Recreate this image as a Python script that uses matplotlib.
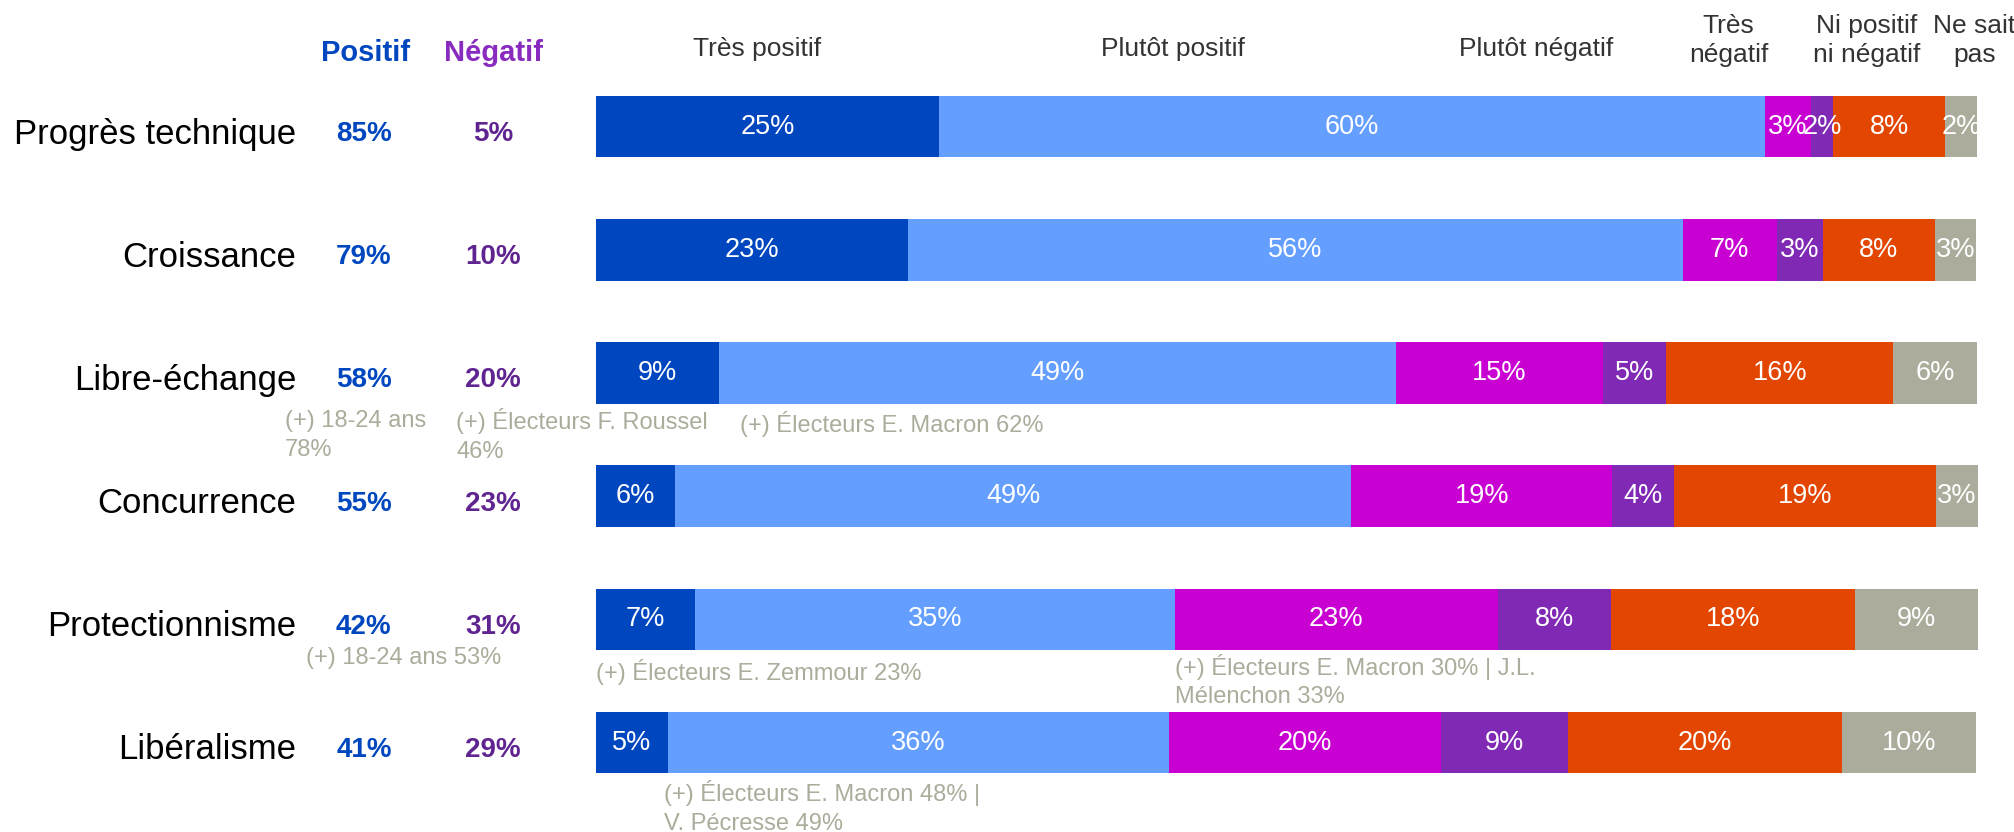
import matplotlib.pyplot as plt

plt.rcParams['font.family'] = ['Liberation Sans', 'DejaVu Sans']

categories = ['Progrès technique', 'Croissance', 'Libre-échange',
              'Concurrence', 'Protectionnisme', 'Libéralisme']
series = ['Très positif', 'Plutôt positif', 'Plutôt négatif',
          'Très\nnégatif', 'Ni positif\nni négatif', 'Ne sait\npas']
# shares (labels show them rounded)
tres_positif = [24.85, 22.6, 8.9, 5.7, 7.2, 5.2]
plutot_positif = [59.8, 56.1, 49.0, 49.0, 34.7, 36.3]
plutot_negatif = [3.3, 6.8, 15.0, 18.9, 23.4, 19.7]
tres_negatif = [1.65, 3.35, 4.6, 4.45, 8.2, 9.2]
ni_ni = [8.07, 8.1, 16.45, 19.0, 17.7, 19.8]
nsp = [2.33, 2.98, 6.05, 3.0, 8.85, 9.7]
positif = [85, 79, 58, 55, 42, 41]
negatif = [5, 10, 20, 23, 31, 29]

# sub-group notes: (row, x, y offset, text)
notes = [
    (2, -22.5, 0.51, '(+) 18-24 ans\n78%'),
    (2, -10.1, 0.51, '(+) Électeurs F. Roussel\n46%'),
    (2, 10.4, 0.41, '(+) Électeurs E. Macron 62%'),
    (4, -21.0, 0.31, '(+) 18-24 ans 53%'),
    (4, 0.0, 0.43, '(+) Électeurs E. Zemmour 23%'),
    (4, 41.9, 0.50, '(+) Électeurs E. Macron 30% | J.L.\nMélenchon 33%'),
    (5, 4.9, 0.53, '(+) Électeurs E. Macron 48% |\nV. Pécresse 49%'),
]

colors = ['#0047BF', '#649FFF', '#C800D2', '#8029B5', '#E24600', '#ABAC9B']
header_x = [11.7, 41.8, 68.1, 82.0, 92.0, 99.8]
gray = '#ABAC9B'

fig = plt.figure(figsize=(20.15, 8.32), dpi=100)
ax = fig.add_axes([0, 0, 1, 1])
ax.set_xlim(-43.15, 102.75)
ax.set_ylim(5.726, -1.028)
ax.axis('off')

rows = list(range(len(categories)))
left = [0] * len(categories)
for vals, col in zip([tres_positif, plutot_positif, plutot_negatif,
                      tres_negatif, ni_ni, nsp], colors):
    ax.barh(rows, vals, left=left, height=0.5, color=col, linewidth=0)
    for r, v, l in zip(rows, vals, left):
        ax.text(l + v / 2, r, f'{round(v)}%', ha='center', va='center',
                color='white', fontsize=19.5)
    left = [l + v for l, v in zip(left, vals)]

for name, x in zip(series, header_x):
    y = -0.70 if '\n' in name else -0.63
    ax.text(x, y, name, ha='center', va='center', color='#333333',
            fontsize=19, linespacing=1.25)

ax.text(-16.7, -0.60, 'Positif', ha='center', va='center', color='#0047BF',
        fontsize=21, fontweight='bold')
ax.text(-7.45, -0.60, 'Négatif', ha='center', va='center', color='#8A2BC0',
        fontsize=21, fontweight='bold')

for r, cat in enumerate(categories):
    ax.text(-21.7, r + 0.06, cat, ha='right', va='center', color='black',
            fontsize=25)
    ax.text(-16.8, r + 0.06, f'{positif[r]}%', ha='center', va='center',
            color='#0047BF', fontsize=20, fontweight='bold')
    ax.text(-7.45, r + 0.06, f'{negatif[r]}%', ha='center', va='center',
            color='#5F2490', fontsize=20, fontweight='bold')

for r, x, dy, txt in notes:
    ax.text(x, r + dy, txt, ha='left', va='center', color=gray,
            fontsize=17, linespacing=1.4)

fig.savefig('out.png', dpi=100)
